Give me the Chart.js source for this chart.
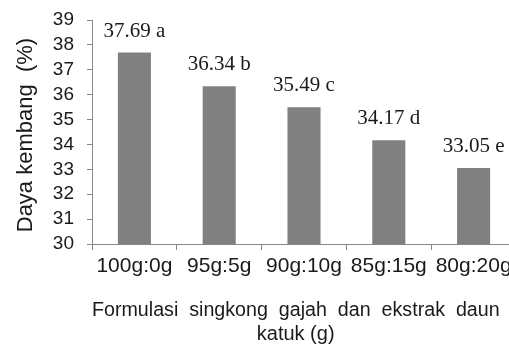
<!DOCTYPE html>
<html>
<head>
<meta charset="utf-8">
<script src="https://cdn.jsdelivr.net/npm/chart.js@4"></script>
<style>
  html, body { margin: 0; padding: 0; background: #fff; overflow: hidden; }
  #wrap { width: 516px; height: 349px; }
</style>
</head>
<body>
<div id="wrap"><canvas id="daya-chart" width="516" height="349"></canvas></div>
<script>
// Data
const categories = ['100g:0g', '95g:5g', '90g:10g', '85g:15g', '80g:20g'];
const values = [37.69, 36.34, 35.49, 34.17, 33.05];
const letters = ['a', 'b', 'c', 'd', 'e'];
const yTicks = [30, 31, 32, 33, 34, 35, 36, 37, 38, 39];

const axisColor = '#878787';
const textColor = '#1a1a1a';
const sans = '"Liberation Sans", Arial, sans-serif';

// Label above each bar: value + letter notation
const barLabels = {
    id: 'barLabels',
    afterDatasetsDraw: (chart) => {
        const ctx = chart.ctx;
        const meta = chart.getDatasetMeta(0);
        ctx.save();
        ctx.font = '21px "Liberation Serif", "Times New Roman", serif';
        ctx.fillStyle = textColor;
        ctx.textAlign = 'center';
        ctx.textBaseline = 'alphabetic';
        meta.data.forEach((bar, i) => {
            const txt = values[i].toFixed(2) + ' ' + letters[i];
            ctx.fillText(txt, bar.x, bar.y - 16);
        });
        ctx.restore();
    }
};

const dataDaya = {
    labels: categories,
    datasets: [{
        data: values,
        backgroundColor: '#808080',
        borderWidth: 0,
        categoryPercentage: 1,
        barPercentage: 0.39
    }]
};

const optionsDaya = {
    responsive: false,
    animation: false,
    layout: {
        padding: { top: 20, right: 0, bottom: 0, left: 0 }
    },
    scales: {
        x: {
            afterFit: (scale) => { scale.height = 105; },
            border: { color: axisColor, width: 1 },
            grid: {
                display: true,
                drawOnChartArea: false,
                drawTicks: true,
                tickLength: 6,
                color: axisColor
            },
            ticks: {
                color: textColor,
                font: { family: sans, size: 21 },
                padding: 4,
                maxRotation: 0,
                autoSkip: false
            },
            title: {
                display: true,
                // trailing spaces nudge the centred title a little left, as in the original
                text: ['Formulasi  singkong  gajah  dan  ekstrak  daun   ', 'katuk (g)   '],
                color: textColor,
                font: { family: sans, size: 20 },
                padding: { top: 0, bottom: 3 }
            }
        },
        y: {
            min: 30,
            max: 39,
            afterFit: (scale) => {
                scale.width = 92;
                // keep the plot top at the layout padding, labels overflow is fine
                scale.paddingTop = 0;
                scale.paddingBottom = 0;
            },
            afterBuildTicks: (scale) => { scale.ticks = yTicks.map(v => ({ value: v })); },
            border: { color: axisColor, width: 1 },
            grid: {
                display: true,
                drawOnChartArea: false,
                drawTicks: true,
                tickLength: 5,
                color: axisColor
            },
            ticks: {
                color: textColor,
                font: { family: sans, size: 19 },
                padding: 13,
                autoSkip: false
            },
            title: {
                display: true,
                text: 'Daya kembang  (%) ',
                color: textColor,
                font: { family: sans, size: 22 },
                padding: { top: 13, bottom: 0 }
            }
        }
    },
    plugins: {
        legend: { display: false },
        tooltip: { enabled: false }
    }
};

new Chart(document.querySelector('#daya-chart'), {
    type: 'bar',
    data: dataDaya,
    options: optionsDaya,
    plugins: [barLabels]
});
</script>
</body>
</html>
